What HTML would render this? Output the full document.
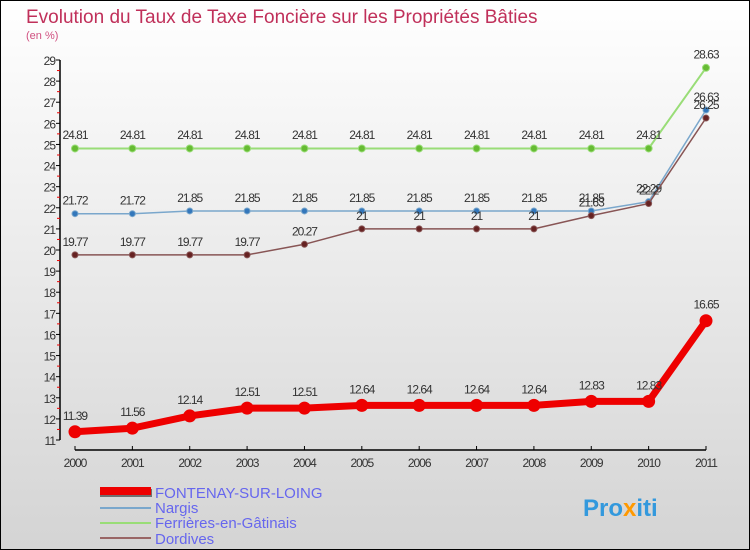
<!DOCTYPE html><html><head><meta charset="utf-8"><style>body{margin:0}svg{display:block}</style></head><body>
<svg width="750" height="550" xmlns="http://www.w3.org/2000/svg" font-family="Liberation Sans, sans-serif">
<defs><linearGradient id="bg" x1="0" y1="0" x2="0" y2="1"><stop offset="0" stop-color="#ffffff"/><stop offset="1" stop-color="#d4d4d4"/></linearGradient></defs>
<rect x="0.5" y="0.5" width="749" height="549" fill="url(#bg)" stroke="#000"/>
<text x="26" y="23" font-size="19" fill="#c0305a">Evolution du Taux de Taxe Foncière sur les Propriétés Bâties</text>
<text x="26" y="39" font-size="11" fill="#d05080">(en %)</text>
<g id="ax" stroke="#000" stroke-width="1.5"><line x1="60" y1="60" x2="60" y2="440"/><line x1="75" y1="450" x2="706" y2="450"/></g>
<g id="yt"></g>
<g id="xt"></g>
<g id="series"></g>
<rect x="100" y="489" width="52" height="8" fill="#707070"/><rect x="100" y="487" width="51" height="8" fill="#ee0000"/>
<line x1="100" y1="508" x2="151" y2="508" stroke="#7aa7cc" stroke-width="2"/>
<line x1="100" y1="523" x2="151" y2="523" stroke="#99dd77" stroke-width="2"/>
<line x1="100" y1="538" x2="151" y2="538" stroke="#996666" stroke-width="2"/>
<g font-size="15" fill="#6666ee"><text x="155" y="498">FONTENAY-SUR-LOING</text><text x="155" y="513">Nargis</text><text x="155" y="528">Ferrières-en-Gâtinais</text><text x="155" y="544">Dordives</text></g>
<text x="583" y="516" font-size="24" font-weight="bold" fill="#3399dd">Pro<tspan fill="#ff9900">x</tspan>iti</text>
<script>
const ns="http://www.w3.org/2000/svg";
function el(t,a,p,txt){const e=document.createElementNS(ns,t);for(const k in a)e.setAttribute(k,a[k]);if(txt!==undefined)e.textContent=txt;document.getElementById(p).appendChild(e);}
const Y=v=>60+(29-v)*380/18, X=i=>75+i*(631/11);
for(let v=11;v<=29;v++){el('line',{x1:56,x2:60,y1:Y(v),y2:Y(v),stroke:'#000'},'yt');el('text',{x:55,y:Y(v)+5,'font-size':12,fill:'#333','text-anchor':'end','letter-spacing':'-1'},'yt',v);if(v<29)el('line',{x1:57,x2:60,y1:Y(v+.5),y2:Y(v+.5),stroke:'#e00'},'yt');}
for(let i=0;i<12;i++){el('line',{x1:X(i),x2:X(i),y1:446,y2:450,stroke:'#000'},'xt');el('text',{x:X(i),y:467,'font-size':12,fill:'#333','text-anchor':'middle','letter-spacing':'-1'},'xt',2000+i);}
const S=[
{d:[24.81,24.81,24.81,24.81,24.81,24.81,24.81,24.81,24.81,24.81,24.81,28.63],c:'#99dd77',f:'#66bb33',w:2,r:3.5},
{d:[21.72,21.72,21.85,21.85,21.85,21.85,21.85,21.85,21.85,21.85,22.29,26.63],c:'#7aa7cc',f:'#3377bb',w:1.5,r:3},
{d:[19.77,19.77,19.77,19.77,20.27,21,21,21,21,21.63,22.2,26.25],c:'#885555',f:'#662222',w:1.5,r:3},
{d:[11.39,11.56,12.14,12.51,12.51,12.64,12.64,12.64,12.64,12.83,12.83,16.65],c:'#ee0000',f:'#ee0000',w:7,r:6}];
S.forEach(s=>{el('polyline',{points:s.d.map((v,i)=>X(i)+','+Y(v)).join(' '),fill:'none',stroke:s.c,'stroke-width':s.w},'series');
s.d.forEach((v,i)=>{el('circle',{cx:X(i),cy:Y(v),r:s.r,fill:s.f,stroke:s.c},'series');el('text',{x:X(i),y:Y(v)-(s.r+6),'font-size':12,fill:'#333','text-anchor':'middle','letter-spacing':'-1'},'series',String(v).replace(/\.?0+$/,''));});});
</script>
</svg></body></html>
